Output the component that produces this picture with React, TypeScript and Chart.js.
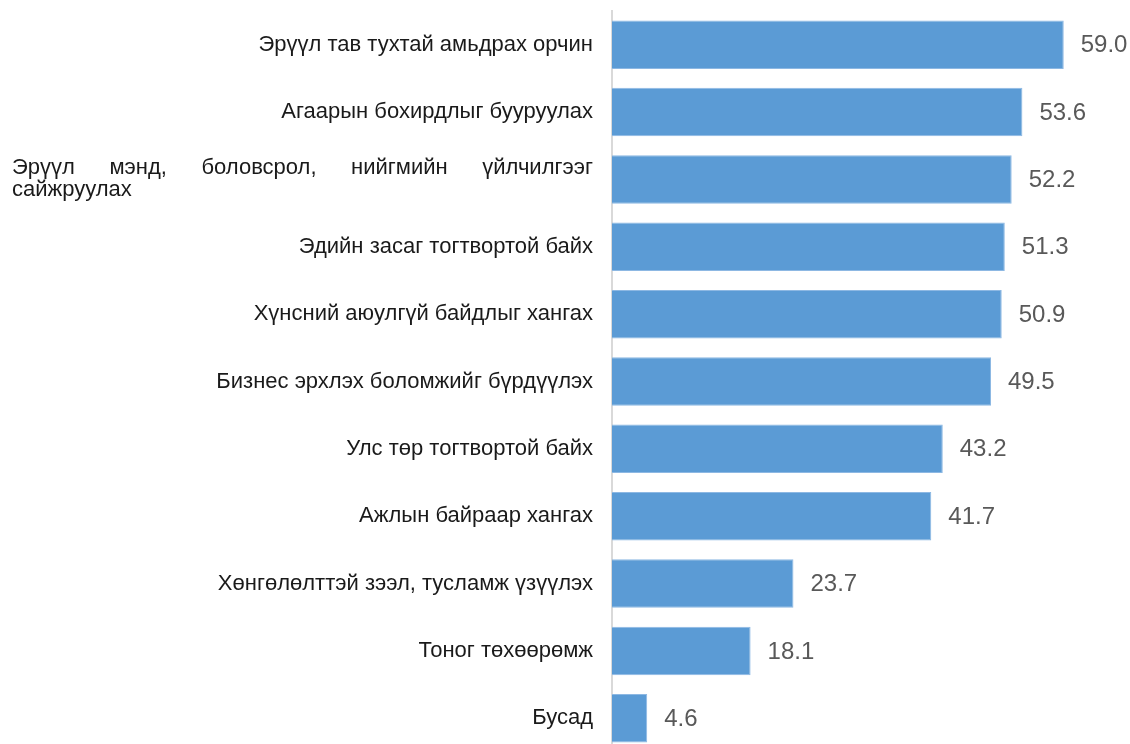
import React, { useEffect, useRef } from "react";
import { Chart, registerables } from "chart.js";

Chart.register(...registerables);

const categories: string[] = [
  "Эрүүл тав тухтай амьдрах орчин",
  "Агаарын бохирдлыг бууруулах",
  "Эрүүл мэнд, боловсрол, нийгмийн үйлчилгээг сайжруулах",
  "Эдийн засаг тогтвортой байх",
  "Хүнсний аюулгүй байдлыг хангах",
  "Бизнес эрхлэх боломжийг бүрдүүлэх",
  "Улс төр тогтвортой байх",
  "Ажлын байраар хангах",
  "Хөнгөлөлттэй зээл, тусламж үзүүлэх",
  "Тоног төхөөрөмж",
  "Бусад",
];

const values: number[] = [59.0, 53.6, 52.2, 51.3, 50.9, 49.5, 43.2, 41.7, 23.7, 18.1, 4.6];

const FONT = "'Liberation Sans', Arial, sans-serif";
const LABEL_SIZE = 22;
const VALUE_SIZE = 24;
const LABEL_LEFT = 12;
const LABEL_RIGHT = 593;
const LINE_H = 22;

const labelPlugin = {
  id: "catLabels",
  afterDraw(chart: any) {
    const ctx: CanvasRenderingContext2D = chart.ctx;
    const yScale = chart.scales.y;
    ctx.save();
    ctx.font = `${LABEL_SIZE}px ${FONT}`;
    ctx.fillStyle = "#1a1a1a";
    ctx.textBaseline = "middle";
    const maxW = LABEL_RIGHT - LABEL_LEFT;
    categories.forEach((label, i) => {
      const y = yScale.getPixelForValue(i);
      const words = label.split(" ");
      const lines: string[][] = [];
      let cur: string[] = [];
      words.forEach((w) => {
        const test = [...cur, w].join(" ");
        if (cur.length && ctx.measureText(test).width > maxW) {
          lines.push(cur);
          cur = [w];
        } else {
          cur.push(w);
        }
      });
      if (cur.length) lines.push(cur);
      if (lines.length === 1) {
        ctx.textAlign = "right";
        ctx.fillText(lines[0].join(" "), LABEL_RIGHT, y);
      } else {
        const startY = y - ((lines.length - 1) * LINE_H) / 2;
        lines.forEach((ws, li) => {
          const ly = startY + li * LINE_H;
          ctx.textAlign = "left";
          if (li < lines.length - 1 && ws.length > 1) {
            const total = ws.reduce((s, w) => s + ctx.measureText(w).width, 0);
            const gap = (maxW - total) / (ws.length - 1);
            let x = LABEL_LEFT;
            ws.forEach((w) => {
              ctx.fillText(w, x, ly);
              x += ctx.measureText(w).width + gap;
            });
          } else {
            ctx.fillText(ws.join(" "), LABEL_LEFT, ly);
          }
        });
      }
    });
    ctx.restore();
  },
};

const valuePlugin = {
  id: "valueLabels",
  afterDatasetsDraw(chart: any) {
    const ctx: CanvasRenderingContext2D = chart.ctx;
    const meta = chart.getDatasetMeta(0);
    ctx.save();
    ctx.font = `${VALUE_SIZE}px ${FONT}`;
    ctx.fillStyle = "#595959";
    ctx.textAlign = "left";
    ctx.textBaseline = "middle";
    meta.data.forEach((bar: any, i: number) => {
      ctx.fillText(values[i].toFixed(1), bar.x + 17, bar.y + 1);
    });
    ctx.restore();
  },
};

export default function App() {
  const ref = useRef<HTMLCanvasElement>(null);
  useEffect(() => {
    if (!ref.current) return;
    const chart = new Chart(ref.current, {
      type: "bar",
      data: {
        labels: categories,
        datasets: [
          {
            data: values,
            backgroundColor: "#5B9BD5",
            borderColor: "#8DB8E3",
            borderWidth: 1,
            categoryPercentage: 1,
            barPercentage: 0.72,
          },
        ],
      },
      options: {
        indexAxis: "y",
        responsive: false,
        animation: false,
        layout: { padding: { top: 11, bottom: 8, right: 5, left: 0 } },
        plugins: { legend: { display: false }, tooltip: { enabled: false } },
        scales: {
          x: { display: false, min: 0, max: 67 },
          y: {
            ticks: { display: false },
            grid: { display: false },
            border: { display: true, color: "#D9D9D9", width: 2 },
            afterFit(scale: any) {
              scale.width = 612;
            },
          },
        },
      },
      plugins: [labelPlugin, valuePlugin],
    });
    return () => chart.destroy();
  }, []);
  return (
    <div style={{ position: "fixed", left: 0, top: 0, width: 1130, height: 744, overflow: "hidden", background: "#fff" }}>
      <canvas ref={ref} width={1130} height={760} style={{ display: "block" }} />
    </div>
  );
}
